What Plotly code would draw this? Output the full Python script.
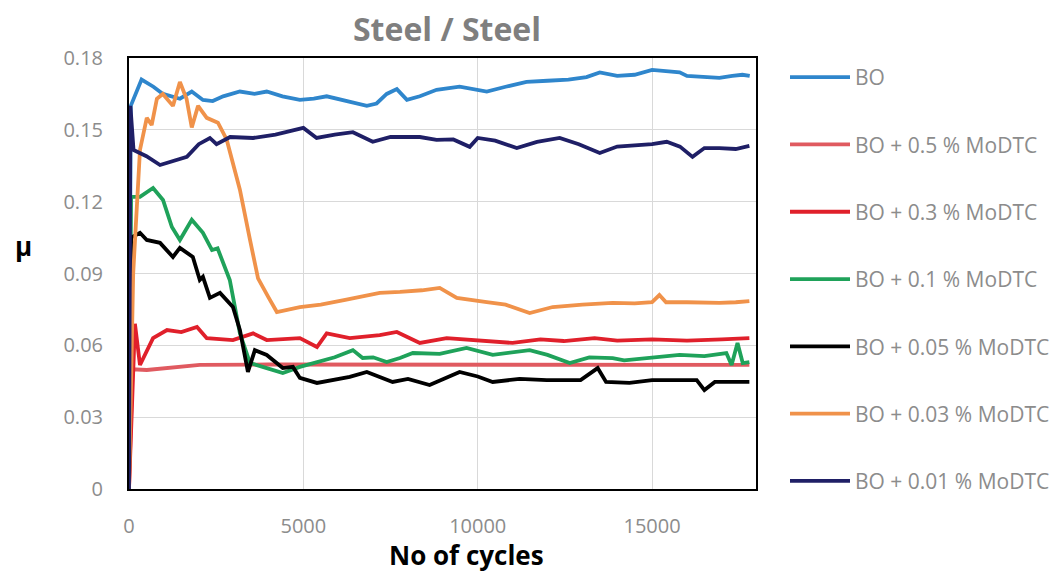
import plotly.graph_objects as go

# cycles / friction coefficient
names = ["BO", "BO + 0.5 % MoDTC", "BO + 0.3 % MoDTC", "BO + 0.1 % MoDTC",
         "BO + 0.05 % MoDTC", "BO + 0.03 % MoDTC", "BO + 0.01 % MoDTC"]

bo_x = [0, 50, 360, 700, 975, 1460, 1800, 2120, 2400, 2700, 3180, 3600, 3950, 4400, 4900,
        5300, 5670, 6200, 6820, 7100, 7390, 7680, 7970, 8340, 8820, 9480, 10260, 10800, 11400,
        12000, 12600, 13120, 13500, 14000, 14500, 15000, 15400, 15790, 16000, 16500, 16930,
        17300, 17590, 17800]
bo_y = [0, 0.160, 0.171, 0.168, 0.165, 0.163, 0.166, 0.1625, 0.162, 0.164, 0.166, 0.165,
        0.166, 0.164, 0.1625, 0.163, 0.164, 0.162, 0.160, 0.161, 0.165, 0.167, 0.1625, 0.164,
        0.1667, 0.168, 0.166, 0.168, 0.170, 0.1705, 0.171, 0.172, 0.174, 0.1725, 0.173, 0.175,
        0.1745, 0.174, 0.1725, 0.172, 0.1717, 0.1725, 0.173, 0.1725]

m05_x = [0, 100, 510, 1000, 2030, 4000, 8000, 12000, 16000, 17790]
m05_y = [0, 0.050, 0.0497, 0.0505, 0.0518, 0.052, 0.052, 0.0518, 0.052, 0.0518]

m03_x = [0, 170, 315, 690, 1090, 1500, 1950, 2230, 2980, 3560, 3950, 4900, 5390, 5670, 6330,
         7190, 7680, 8340, 9110, 10000, 11000, 11800, 12470, 13350, 14000, 15000, 16000,
         17000, 17790]
m03_y = [0, 0.069, 0.0518, 0.063, 0.0664, 0.0655, 0.0677, 0.063, 0.0622, 0.065, 0.0622,
         0.063, 0.0593, 0.065, 0.063, 0.0643, 0.0656, 0.061, 0.063, 0.062, 0.061, 0.0625,
         0.0618, 0.063, 0.062, 0.0625, 0.062, 0.0625, 0.063]

m01_x = [0, 60, 315, 690, 975, 1230, 1460, 1800, 2120, 2380, 2540, 2800, 2890, 3180, 3470,
         3950, 4410, 4900, 5400, 5900, 6420, 6700, 7000, 7390, 7770, 8140, 8910, 9680, 10430,
         11000, 11490, 12000, 12640, 13200, 13870, 14200, 15000, 15790, 16500, 17130, 17280,
         17450, 17600, 17790]
m01_y = [0, 0.122, 0.122, 0.1257, 0.1207, 0.1094, 0.104, 0.1124, 0.107, 0.0998, 0.1005,
         0.090, 0.0873, 0.065, 0.0526, 0.0505, 0.0484, 0.051, 0.053, 0.055, 0.058, 0.0547,
         0.055, 0.053, 0.0547, 0.0568, 0.0564, 0.0589, 0.056, 0.057, 0.058, 0.056, 0.0526,
         0.055, 0.0547, 0.0537, 0.055, 0.056, 0.0555, 0.0568, 0.0518, 0.061, 0.0526, 0.053]

m005_x = [0, 60, 315, 510, 890, 1260, 1460, 1830, 2030, 2120, 2320, 2610, 2980, 3180, 3410,
          3610, 3950, 4410, 4700, 4900, 5390, 5900, 6330, 6820, 7190, 7560, 8000, 8620, 9480,
          10000, 10430, 11200, 11980, 12950, 13440, 13680, 14350, 15000, 15500, 16280, 16500,
          16800, 17300, 17790]
m005_y = [0, 0.105, 0.107, 0.104, 0.1028, 0.0969, 0.1007, 0.0969, 0.0873, 0.0886, 0.0798,
          0.0819, 0.076, 0.0664, 0.0489, 0.058, 0.056, 0.0505, 0.051, 0.0464, 0.0443, 0.0455,
          0.0468, 0.0489, 0.0468, 0.0447, 0.046, 0.0434, 0.0489, 0.047, 0.0447, 0.046, 0.0455,
          0.0455, 0.0505, 0.0447, 0.0443, 0.0455, 0.0455, 0.0455, 0.0413, 0.0447, 0.0447,
          0.0447]

m003_x = [0, 120, 315, 510, 650, 800, 970, 1260, 1460, 1650, 1800, 1980, 2230, 2550, 2800,
          3180, 3470, 3700, 4000, 4240, 4900, 5500, 6200, 7190, 7770, 8400, 8910, 9400, 10260,
          10800, 11490, 12150, 13000, 13870, 14500, 15000, 15210, 15400, 16000, 16930, 17400,
          17790]
m003_y = [0, 0.090, 0.1416, 0.155, 0.152, 0.163, 0.165, 0.160, 0.170, 0.163, 0.151, 0.160,
          0.155, 0.153, 0.146, 0.125, 0.104, 0.088, 0.080, 0.0739, 0.076, 0.077, 0.079,
          0.0819, 0.0823, 0.083, 0.084, 0.0798, 0.078, 0.077, 0.0735, 0.076, 0.077, 0.0777,
          0.0775, 0.078, 0.081, 0.078, 0.078, 0.0777, 0.078, 0.0785]

m001_x = [0, 40, 130, 500, 890, 1300, 1660, 2000, 2320, 2510, 2900, 3560, 4200, 5000, 5380,
          5900, 6420, 6990, 7500, 8000, 8340, 8820, 9300, 9770, 10000, 10500, 11120, 11700,
          12350, 12900, 13500, 14000, 14600, 15000, 15420, 15800, 16160, 16500, 16930, 17400,
          17790]
m001_y = [0, 0.160, 0.1416, 0.139, 0.1353, 0.137, 0.1387, 0.144, 0.1466, 0.144, 0.147,
          0.1466, 0.148, 0.1508, 0.1466, 0.148, 0.149, 0.145, 0.147, 0.147, 0.147, 0.1458,
          0.146, 0.1429, 0.1466, 0.1455, 0.1424, 0.145, 0.1466, 0.144, 0.1403, 0.143, 0.1435,
          0.144, 0.145, 0.143, 0.1387, 0.1424, 0.1424, 0.142, 0.1433]

x_ticks = [0, 5000, 10000, 15000]
y_ticks = [0, 0.03, 0.06, 0.09, 0.12, 0.15, 0.18]
y_tick_text = ["0", "0.03", "0.06", "0.09", "0.12", "0.15", "0.18"]

xs = [bo_x, m05_x, m03_x, m01_x, m005_x, m003_x, m001_x]
ys = [bo_y, m05_y, m03_y, m01_y, m005_y, m003_y, m001_y]
colors = ["#2F86CC", "#E05A60", "#E0202B", "#1FA25A", "#000000", "#F0924A", "#1F1F66"]

fig = go.Figure()
for name, x, y, c in zip(names, xs, ys, colors):
    fig.add_trace(go.Scatter(x=x, y=y, name=name, mode="lines", legendgroup=name,
                             line=dict(color=c, width=3.8)))

# the page body has an 8px margin, so the figure is 8px smaller than the window
W, H = 1055, 564
L, R, T, B = 121, 748, 50, 481   # plot area in figure pixels
pw, ph = R - L, B - T

fig.update_layout(
    width=W, height=H,
    margin=dict(l=L, r=W - R, t=T, b=H - B, autoexpand=False),
    paper_bgcolor="white", plot_bgcolor="white",
    font=dict(family="Open Sans, sans-serif", color="#8C8C8C", size=20),
    title=dict(text="<b>Steel / Steel</b>", x=439 / W, xanchor="center",
               y=1 - 22 / H, yanchor="middle",
               font=dict(size=32, color="#7F7F7F")),
    legend=dict(x=(777 - L) / pw, y=(B - 49) / ph, xanchor="left",
                yanchor="top", maxheight=540,
                font=dict(size=21, color="#8C8C8C"), tracegroupgap=37,
                itemwidth=60, bgcolor="rgba(0,0,0,0)"),
    annotations=[
        dict(text="<b>μ</b>", xref="paper", yref="paper", x=(15 - L) / pw,
             y=(B - 238) / ph, xanchor="center", yanchor="middle", showarrow=False,
             font=dict(size=26, color="black")),
        dict(text="<b>No of cycles</b>", xref="paper", yref="paper", x=(458 - L) / pw,
             y=-(547 - B) / ph, xanchor="center", yanchor="middle", showarrow=False,
             font=dict(size=26, color="black")),
    ],
)
fig.update_xaxes(range=[0, 17980], tickvals=x_ticks, ticktext=[str(v) for v in x_ticks],
                 automargin=False,
                 showgrid=True, gridcolor="#D9D9D9", gridwidth=1, zeroline=False,
                 showline=True, linecolor="black", linewidth=2, mirror=True,
                 ticks="outside", ticklen=18, tickcolor="rgba(0,0,0,0)")
fig.update_yaxes(range=[0, 0.18], tickvals=y_ticks, ticktext=y_tick_text,
                 automargin=False,
                 showgrid=True, gridcolor="#D9D9D9", gridwidth=1, zeroline=False,
                 showline=True, linecolor="black", linewidth=2, mirror=True,
                 ticks="outside", ticklen=20, tickcolor="rgba(0,0,0,0)")

fig.write_html("out.html")
